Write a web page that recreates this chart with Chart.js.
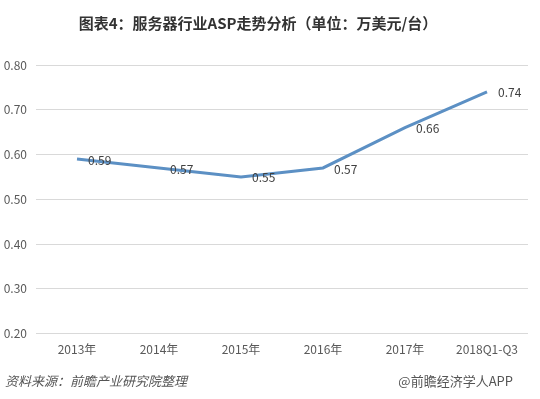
<!DOCTYPE html>
<html>
<head>
<meta charset="utf-8">
<script src="https://cdn.jsdelivr.net/npm/chart.js@4"></script>
<style>
  html, body { margin: 0; padding: 0; background: #fff; }
  #wrap { width: 540px; height: 399px; }
</style>
</head>
<body>
<div id="wrap"><canvas id="aspChart" width="540" height="399"></canvas></div>
<script>
const categories = ['2013年', '2014年', '2015年', '2016年', '2017年', '2018Q1-Q3'];
const aspValues = [0.59, 0.57, 0.55, 0.57, 0.66, 0.74];
const yTicks = [0.2, 0.3, 0.4, 0.5, 0.6, 0.7, 0.8];

const titleText = '图表4：服务器行业ASP走势分析（单位：万美元/台）';
const sourceText = '资料来源：前瞻产业研究院整理';
const brandText = '@前瞻经济学人APP';

const fontFamily = '"Noto Sans CJK SC", "Noto Sans", sans-serif';

// titulli, burimi dhe etiketat e vlerave
const decorPlugin = {
    id: 'decor',
    afterDatasetsDraw(chart) {
        const ctx = chart.ctx;
        const meta = chart.getDatasetMeta(0);
        ctx.save();
        ctx.font = '12px ' + fontFamily;
        ctx.fillStyle = '#404040';
        ctx.textAlign = 'left';
        ctx.textBaseline = 'middle';
        meta.data.forEach((pt, i) => {
            ctx.fillText(aspValues[i].toFixed(2), pt.x + 11, pt.y + 1);
        });
        ctx.restore();
    },
    afterDraw(chart) {
        const ctx = chart.ctx;
        ctx.save();
        ctx.fillStyle = '#333333';
        ctx.font = 'bold 15px ' + fontFamily;
        ctx.textAlign = 'center';
        ctx.textBaseline = 'middle';
        ctx.fillText(titleText, 258, 23);

        ctx.fillStyle = '#555555';
        ctx.font = 'italic 13px ' + fontFamily;
        ctx.textAlign = 'left';
        ctx.fillText(sourceText, 5, 381);
        ctx.font = '13px ' + fontFamily;
        ctx.textAlign = 'right';
        ctx.fillText(brandText, 513, 381);
        ctx.restore();
    }
};

const aspChart = new Chart(document.getElementById('aspChart').getContext('2d'), {
    type: 'line',
    data: {
        labels: categories,
        datasets: [{
            label: 'ASP',
            data: aspValues,
            borderColor: 'rgb(92, 144, 196)',
            backgroundColor: 'rgb(92, 144, 196)',
            borderWidth: 3,
            pointRadius: 0,
            tension: 0,
            borderCapStyle: 'butt'
        }]
    },
    options: {
        responsive: false,
        animation: false,
        layout: { padding: { top: 65, bottom: 33, left: 0, right: 12 } },
        plugins: {
            legend: { display: false },
            title: { display: false },
            tooltip: { enabled: false }
        },
        scales: {
            x: {
                offset: true,
                grid: { display: false, drawTicks: false },
                border: { display: false },
                ticks: {
                    color: '#595959',
                    font: { family: fontFamily, size: 12 },
                    padding: 9,
                    maxRotation: 0
                }
            },
            y: {
                min: yTicks[0],
                max: yTicks[yTicks.length - 1],
                afterBuildTicks: axis => { axis.ticks = yTicks.map(v => ({ value: v })); },
                afterFit: axis => { axis.width = 36; },
                grid: { color: '#d9d9d9', drawTicks: false },
                border: { display: false },
                ticks: {
                    color: '#595959',
                    font: { family: fontFamily, size: 12 },
                    padding: 9,
                    callback: v => v.toFixed(2)
                }
            }
        }
    },
    plugins: [decorPlugin]
});
</script>
</body>
</html>
